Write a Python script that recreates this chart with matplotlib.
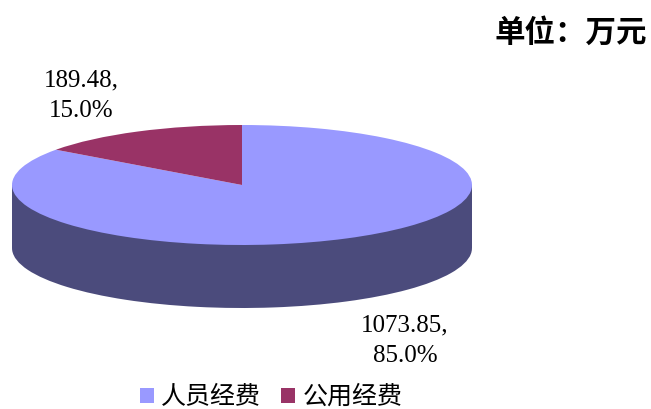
import numpy as np
import matplotlib.pyplot as plt
from matplotlib.patches import Rectangle

plt.rcParams['font.family'] = ['Noto Sans CJK SC', 'DejaVu Sans']

categories = ['人员经费', '公用经费']
values = [1073.85, 189.48]
percents = [85.0, 15.0]
top_colors = ['#9999ff', '#993366']
side_colors = ['#4b4b7c', '#4d1a33']

W, H = 651, 409
fig = plt.figure(figsize=(W / 100, H / 100), dpi=100)
ax = fig.add_axes([0, 0, 1, 1])

# pie centre at (242, 185) px, radii 230 x 60 px, thickness 63 px
cx, cy, rx, ry = 242, 185, 230, 60
depth = 63 / ry

# side of the 3d pie: lower pie + band between the two
ax.pie(values, colors=side_colors, startangle=90, counterclock=False,
       center=(0, -depth), wedgeprops=dict(linewidth=0))
ax.add_patch(Rectangle((-1, -depth), 2, depth, facecolor=side_colors[0], linewidth=0))
wedges, _ = ax.pie(values, colors=top_colors, startangle=90, counterclock=False,
                   wedgeprops=dict(linewidth=0))

ax.set_aspect('auto')
ax.set_xlim(-cx / rx, (W - cx) / rx)
ax.set_ylim((cy - H) / ry, cy / ry)
ax.axis('off')

# data labels
label_pos = [(405, 341), (81, 96)]
for v, p, (px, py) in zip(values, percents, label_pos):
    fig.text(px / W, 1 - py / H, f'{v:.2f},\n{p:.1f}%', ha='center', va='center',
             family=['Liberation Serif', 'DejaVu Serif'], fontsize=18, linespacing=1.5)

fig.text(647 / W, 1 - 33 / H, '单位：万元', ha='right', va='center',
         fontsize=22, fontweight='bold')

ax.legend(wedges, categories, loc='center', bbox_to_anchor=(271 / W, 1 - 397 / H),
          bbox_transform=fig.transFigure, ncol=2, frameon=False, fontsize=18,
          handlelength=0.55, handleheight=0.55, handletextpad=0.3, columnspacing=0.8)

fig.savefig('out.png', dpi=100)
